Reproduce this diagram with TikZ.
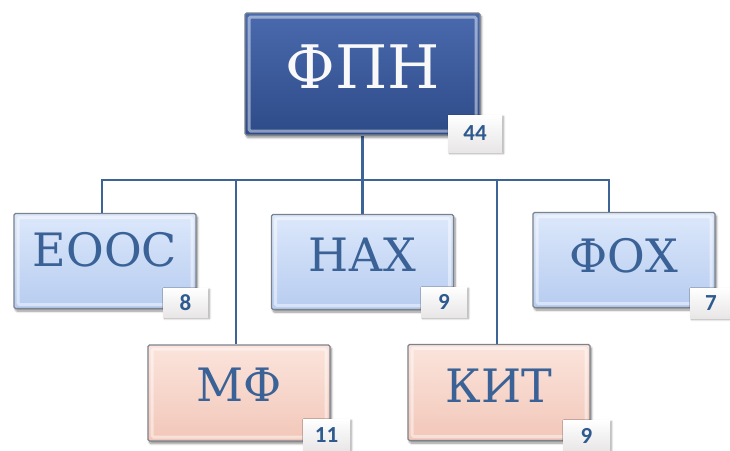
\documentclass[tikz,border=0pt]{standalone}
\usepackage{fontspec}
\setmainfont{DejaVu Serif}
\newfontfamily\boxfont{DejaVu Serif}
\newfontfamily\badgefont{Carlito}[BoldFont={Carlito Bold}]
\usetikzlibrary{shadows,shadows.blur,backgrounds}
\definecolor{linecol}{HTML}{3C6497}
\definecolor{txtblue}{HTML}{3A6296}
\definecolor{badgeblue}{HTML}{2F5A8F}
\definecolor{edgecol}{HTML}{7C828C}
\definecolor{darktop}{HTML}{4A6AAE}
\definecolor{darkbot}{HTML}{2E4B88}
\definecolor{bluetop}{HTML}{DCE8FB}
\definecolor{bluebot}{HTML}{B7CCF0}
\definecolor{pinktop}{HTML}{FBE4DC}
\definecolor{pinkbot}{HTML}{F2C7B9}
\begin{document}
\begin{tikzpicture}[x=1pt,y=-1pt,
  conn/.style={draw=linecol, line width=2.8pt},
  box/.style={rectangle, draw=edgecol, line width=1.3pt, rounded corners=1.5pt,
    blur shadow={shadow xshift=1.5pt, shadow yshift=-2.5pt, shadow blur steps=8, shadow opacity=45},
    path picture={\draw[white, opacity=0.45, line width=3pt]
      ([shift={(4pt,-4pt)}]path picture bounding box.north west) rectangle
      ([shift={(-4pt,4pt)}]path picture bounding box.south east);}},
  topbox/.style={box, top color=darktop, bottom color=darkbot, minimum width=235pt, minimum height=122pt},
  bluebox/.style={box, top color=bluetop, bottom color=bluebot, minimum width=182pt, minimum height=95pt},
  pinkbox/.style={box, top color=pinktop, bottom color=pinkbot, minimum width=182pt, minimum height=96pt},
  bigtext/.style={inner sep=0pt, text=white!95!gray, font=\boxfont\fontsize{60}{60}\selectfont},
  boxtext/.style={inner sep=0pt, text=txtblue, font=\boxfont\fontsize{46}{46}\selectfont},
  badge/.style={rectangle, inner sep=0pt, top color=white, bottom color=white!92!red!40!gray!30,
    text=badgeblue, font=\badgefont\bfseries\fontsize{23}{23}\selectfont,
    blur shadow={shadow xshift=1.5pt, shadow yshift=-1.5pt, shadow blur steps=6, shadow opacity=35}},
]
\useasboundingbox (0,0) rectangle (730,450);

% boxes
\node[topbox]  (fpn)  at (362.5,74) {};
\node[bluebox] (eooc) at (105,261) {};
\node[bluebox] (nax)  at (362.5,262) {};
\node[bluebox] (fox)  at (624,260) {};
\node[pinkbox] (mf)   at (239,393) {};
\node[pinkbox] (kit)  at (499,392.5) {};

% texts
\node[bigtext] (tfpn)  at ([yshift=7pt]fpn.center)  {ФПН};
\node[boxtext] (teooc) at ([yshift=11pt]eooc.center) {ЕООС};
\node[boxtext] (tnax)  at ([yshift=7pt]nax.center)  {НАХ};
\node[boxtext] (tfox)  at ([yshift=4pt]fox.center)  {ФОХ};
\node[boxtext] (tmf)   at ([yshift=8pt]mf.center)   {МФ};
\node[boxtext] (tkit)  at ([yshift=7pt]kit.center)  {КИТ};

% badges
\node[badge, minimum width=54pt, minimum height=37pt] (b44) at (475,133.5) {44};
\node[badge, minimum width=45pt, minimum height=29pt] (b8)  at (185.5,302.5) {8};
\node[badge, minimum width=46pt, minimum height=30pt] (b9a) at (444,302) {9};
\node[badge, minimum width=42pt, minimum height=30pt] (b7)  at (711,303) {7};
\node[badge, minimum width=47pt, minimum height=32pt] (b11) at (326.5,435) {11};
\node[badge, minimum width=47pt, minimum height=31pt] (b9b) at (586.5,435.5) {9};

% connectors
\coordinate (bus) at (363,180);
\coordinate (eoocin) at ([xshift=-3pt]eooc.north);
\coordinate (mfin)   at ([xshift=-3pt]mf.north);
\coordinate (kitin)  at ([xshift=-2pt]kit.north);
\coordinate (foxin)  at ([xshift=-15pt]fox.north);
\begin{scope}[on background layer]
\draw[conn] (fpn.south) -- (nax.north);
\draw[conn] (eoocin) -- (eoocin |- bus) -- (foxin |- bus) -- (foxin);
\draw[conn] (mfin |- bus) -- (mfin);
\draw[conn] (kitin |- bus) -- (kitin);
\end{scope}
\end{tikzpicture}
\end{document}
